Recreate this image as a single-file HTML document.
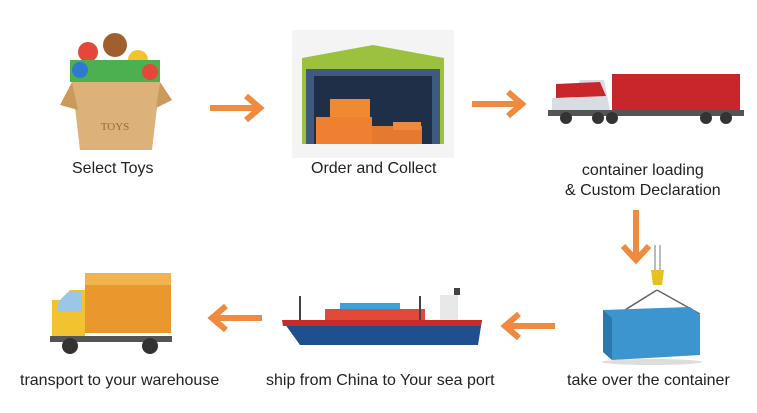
<!DOCTYPE html>
<html><head><meta charset="utf-8"><style>
html,body{margin:0;padding:0;background:#fff;}
body{width:757px;height:413px;position:relative;overflow:hidden;font-family:"Liberation Sans",sans-serif;}
.t{position:absolute;font-size:16px;color:#222;text-align:center;white-space:nowrap;}
svg{position:absolute;left:0;top:0;}
</style></head><body>
<svg width="757" height="413" viewBox="0 0 757 413">
<!-- arrows -->
<g transform="translate(210,108)"><path d="M0 0 H48 M36 -12 L50 0 L36 12" stroke="#ef8a3f" stroke-width="6" fill="none"/></g>
<g transform="translate(472,104)"><path d="M0 0 H48 M36 -12 L50 0 L36 12" stroke="#ef8a3f" stroke-width="6" fill="none"/></g>
<g transform="translate(636,210)"><path d="M0 0 V48 M-13 36 L0 50 L13 36" stroke="#ef8a3f" stroke-width="6" fill="none"/></g>
<g transform="translate(555,326)"><path d="M0 0 H-48 M-36 -12 L-50 0 L-36 12" stroke="#ef8a3f" stroke-width="6" fill="none"/></g>
<g transform="translate(262,318)"><path d="M0 0 H-48 M-36 -12 L-50 0 L-36 12" stroke="#ef8a3f" stroke-width="6" fill="none"/></g>

<!-- toys box -->
<circle cx="88" cy="52" r="10" fill="#e5473b"/><circle cx="115" cy="45" r="12" fill="#a0602e"/>
<circle cx="138" cy="60" r="10" fill="#f2c230"/><rect x="70" y="60" width="90" height="22" fill="#4caf50"/>
<circle cx="80" cy="70" r="8" fill="#2e7ad1"/><circle cx="150" cy="72" r="8" fill="#e5473b"/>
<path d="M72 82 L160 82 L152 150 L80 150 Z" fill="#dcb27a"/>
<path d="M72 82 L60 105 L78 110 Z M160 82 L172 100 L156 108 Z" fill="#c99a5c"/>
<text x="115" y="130" font-size="11" fill="#9a6a30" text-anchor="middle" font-family="Liberation Serif">TOYS</text>

<!-- warehouse -->
<rect x="292" y="30" width="162" height="128" fill="#f4f4f4"/>
<path d="M302 58 L373 45 L444 58 L444 144 L302 144 Z" fill="#9cc13e"/>
<rect x="306" y="69" width="134" height="75" fill="#3f5a7e"/>
<rect x="314" y="76" width="118" height="68" fill="#1e2f47"/>
<rect x="330" y="99" width="40" height="20" fill="#f08a32"/>
<rect x="316" y="117" width="56" height="27" fill="#ef8030"/>
<rect x="372" y="126" width="50" height="18" fill="#e57a2e"/>
<rect x="393" y="122" width="28" height="8" fill="#ee8a3e"/>

<!-- big truck -->
<rect x="612" y="74" width="128" height="36" fill="#c8262a"/>
<path d="M552 98 L574 98 L580 80 L604 80 L610 110 L552 110 Z" fill="#d8dde4"/>
<path d="M556 84 L600 82 L606 96 L556 98 Z" fill="#c8262a"/>
<rect x="548" y="110" width="196" height="6" fill="#555"/>
<g fill="#333"><circle cx="566" cy="118" r="6"/><circle cx="598" cy="118" r="6"/><circle cx="612" cy="118" r="6"/><circle cx="706" cy="118" r="6"/><circle cx="726" cy="118" r="6"/></g>

<!-- crane container -->
<line x1="655" y1="245" x2="655" y2="272" stroke="#bbb" stroke-width="2"/>
<line x1="660" y1="245" x2="660" y2="272" stroke="#bbb" stroke-width="2"/>
<path d="M651 270 L664 270 L662 285 L653 285 Z" fill="#e8c020"/>
<path d="M657 290 L612 318 M657 290 L700 314" stroke="#666" stroke-width="1.5"/>
<path d="M603 310 L690 307 L700 315 L700 355 L612 360 L603 352 Z" fill="#3d95d0"/>
<path d="M603 310 L612 318 L612 360 L603 352 Z" fill="#2a78b0"/>
<ellipse cx="652" cy="362" rx="50" ry="3" fill="#ddd"/>

<!-- ship -->
<path d="M282 320 L482 320 L478 345 L300 345 Z" fill="#1f4f8f"/>
<path d="M282 320 L482 320 L481 326 L283 326 Z" fill="#c92a2a"/>
<rect x="325" y="309" width="100" height="11" fill="#e14a3a"/>
<rect x="340" y="303" width="60" height="6" fill="#3aa3d8"/>
<rect x="440" y="295" width="18" height="25" fill="#e8e8e8"/>
<rect x="454" y="288" width="6" height="7" fill="#444"/>
<line x1="300" y1="296" x2="300" y2="320" stroke="#444" stroke-width="2"/>
<line x1="420" y1="296" x2="420" y2="320" stroke="#444" stroke-width="2"/>

<!-- small truck -->
<rect x="85" y="273" width="86" height="60" fill="#e9982e"/>
<path d="M85 273 L171 273 L171 285 L85 285 Z" fill="#f2b34e"/>
<path d="M52 300 L62 300 L70 290 L85 290 L85 338 L52 338 Z" fill="#f2c230"/>
<path d="M58 302 L68 292 L82 292 L82 312 L58 312 Z" fill="#9bc6e6"/>
<rect x="50" y="336" width="122" height="6" fill="#555"/>
<g fill="#333"><circle cx="70" cy="346" r="8"/><circle cx="150" cy="346" r="8"/></g>
</svg>
<div class="t" style="left:72px;top:160px;">Select Toys</div>
<div class="t" style="left:311px;top:160px;">Order and Collect</div>
<div class="t" style="left:565px;top:161px;line-height:20px;">container loading<br>&amp; Custom Declaration</div>
<div class="t" style="left:567px;top:372px;">take over the container</div>
<div class="t" style="left:266px;top:372px;">ship from China to Your sea port</div>
<div class="t" style="left:20px;top:372px;">transport to your warehouse</div>
</body></html>
